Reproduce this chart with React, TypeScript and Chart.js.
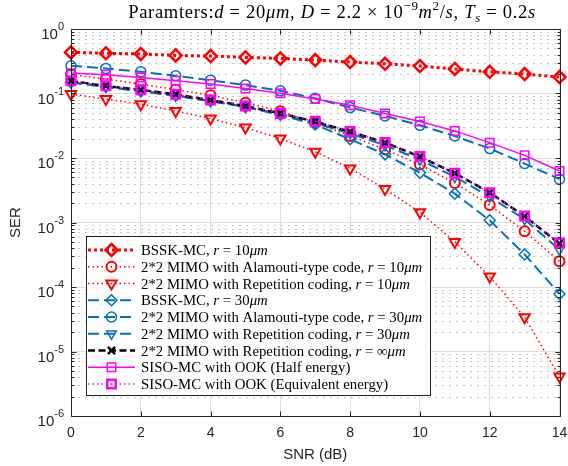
import React, { useEffect, useRef } from 'react';
import { Chart, registerables } from 'chart.js';

Chart.register(...registerables);

// ---------------- data ----------------
const snr = [0, 1, 2, 3, 4, 5, 6, 7, 8, 9, 10, 11, 12, 13, 14];

const bsskR10 = [0.434, 0.42, 0.41, 0.39, 0.38, 0.363, 0.35, 0.33, 0.307, 0.289, 0.266, 0.24, 0.217, 0.2, 0.18];
const alamoutiR10 = [0.195, 0.168, 0.14, 0.115, 0.094, 0.072, 0.053, 0.035, 0.022, 0.0136, 0.0079, 0.0041, 0.00186, 0.00073, 0.00025];
const repetitionR10 = [0.098, 0.082, 0.0684, 0.0537, 0.0408, 0.0296, 0.02, 0.0125, 0.0069, 0.0033, 0.00144, 0.0005, 0.000145, 3.4e-5, 4.1e-6];
const bsskR30 = [0.15, 0.128, 0.109, 0.093, 0.077, 0.062, 0.047, 0.033, 0.0195, 0.0114, 0.0059, 0.0028, 0.00108, 0.00032, 7.8e-5];
const alamoutiR30 = [0.269, 0.245, 0.217, 0.188, 0.161, 0.135, 0.11, 0.0843, 0.0605, 0.0449, 0.0321, 0.0219, 0.014, 0.0082, 0.0047];
const repetitionR30 = [0.148, 0.126, 0.108, 0.092, 0.076, 0.062, 0.047, 0.035, 0.024, 0.0157, 0.0094, 0.0051, 0.0025, 0.00112, 0.00038];
const repetitionRInf = [0.157, 0.131, 0.114, 0.097, 0.0787, 0.064, 0.049, 0.0367, 0.0256, 0.0173, 0.0105, 0.0058, 0.0029, 0.00125, 0.00047];
const sisoHalf = [0.207, 0.195, 0.177, 0.157, 0.14, 0.12, 0.101, 0.082, 0.066, 0.049, 0.0367, 0.0263, 0.0173, 0.011, 0.0063];
const sisoEquiv = [0.157, 0.132, 0.114, 0.097, 0.079, 0.064, 0.049, 0.037, 0.0258, 0.0174, 0.0106, 0.0058, 0.0029, 0.00126, 0.00048];

const xTickValues = [0, 2, 4, 6, 8, 10, 12, 14];
const yTickExponents = [0, -1, -2, -3, -4, -5, -6];
const xTitle = 'SNR (dB)';
const yTitle = 'SER';

type Seg = { t: string; i?: boolean; sup?: boolean; sub?: boolean };

const titleSegs: Seg[] = [
  { t: 'Paramters:' }, { t: 'd', i: true }, { t: ' = 20' }, { t: 'μm', i: true }, { t: ', ' },
  { t: 'D', i: true }, { t: ' = 2.2 × 10' }, { t: '−9', sup: true }, { t: 'm', i: true }, { t: '2', sup: true },
  { t: '/' }, { t: 's', i: true }, { t: ', ' }, { t: 'T', i: true }, { t: 's', i: true, sub: true },
  { t: ' = 0.2' }, { t: 's', i: true },
];

const labelBsskR10: Seg[] = [{ t: 'BSSK-MC, ' }, { t: 'r', i: true }, { t: ' = 10' }, { t: 'μm', i: true }];
const labelAlamoutiR10: Seg[] = [{ t: '2*2 MIMO with Alamouti-type code, ' }, { t: 'r', i: true }, { t: ' = 10' }, { t: 'μm', i: true }];
const labelRepetitionR10: Seg[] = [{ t: '2*2 MIMO with Repetition coding, ' }, { t: 'r', i: true }, { t: ' = 10' }, { t: 'μm', i: true }];
const labelBsskR30: Seg[] = [{ t: 'BSSK-MC, ' }, { t: 'r', i: true }, { t: ' = 30' }, { t: 'μm', i: true }];
const labelAlamoutiR30: Seg[] = [{ t: '2*2 MIMO with Alamouti-type code, ' }, { t: 'r', i: true }, { t: ' = 30' }, { t: 'μm', i: true }];
const labelRepetitionR30: Seg[] = [{ t: '2*2 MIMO with Repetition coding, ' }, { t: 'r', i: true }, { t: ' = 30' }, { t: 'μm', i: true }];
const labelRepetitionRInf: Seg[] = [{ t: '2*2 MIMO with Repetition coding, ' }, { t: 'r', i: true }, { t: ' = ∞' }, { t: 'μm', i: true }];
const labelSisoHalf: Seg[] = [{ t: 'SISO-MC with OOK (Half energy)' }];
const labelSisoEquiv: Seg[] = [{ t: 'SISO-MC with OOK (Equivalent energy)' }];

// ---------------- styles ----------------
const RED = '#ff0000';
const BLUE = '#0072bd';
const BLACK = '#000000';
const MAGENTA = '#ff00ff';
const TEXT = '#262626';
const SERIF = '"Liberation Serif", "Times New Roman", serif';
const SANS = '"Liberation Sans", Arial, Helvetica, sans-serif';

type Marker = 'rectRot' | 'circle' | 'triangleDown' | 'crossRot' | 'rect';
interface Series {
  data: number[]; label: Seg[]; color: string; width: number; dash: number[];
  marker: Marker; r: number; mw: number;
}

const series: Series[] = [
  { data: bsskR10, label: labelBsskR10, color: RED, width: 3, dash: [3, 3], marker: 'rectRot', r: 6, mw: 2.5 },
  { data: alamoutiR10, label: labelAlamoutiR10, color: RED, width: 1.5, dash: [1.5, 3], marker: 'circle', r: 5, mw: 2 },
  { data: repetitionR10, label: labelRepetitionR10, color: RED, width: 1.5, dash: [1.5, 3], marker: 'triangleDown', r: 6, mw: 2 },
  { data: bsskR30, label: labelBsskR30, color: BLUE, width: 2, dash: [11, 5], marker: 'rectRot', r: 5.5, mw: 1.5 },
  { data: alamoutiR30, label: labelAlamoutiR30, color: BLUE, width: 2, dash: [11, 5], marker: 'circle', r: 5, mw: 1.5 },
  { data: repetitionR30, label: labelRepetitionR30, color: BLUE, width: 2, dash: [11, 5], marker: 'triangleDown', r: 5.5, mw: 1.5 },
  { data: repetitionRInf, label: labelRepetitionRInf, color: BLACK, width: 2.5, dash: [7, 3.5], marker: 'crossRot', r: 5, mw: 2.5 },
  { data: sisoHalf, label: labelSisoHalf, color: MAGENTA, width: 1.5, dash: [], marker: 'rect', r: 6, mw: 1.5 },
  { data: sisoEquiv, label: labelSisoEquiv, color: MAGENTA, width: 1.5, dash: [1.5, 3], marker: 'rect', r: 6, mw: 2.5 },
];

const isDecade = (v: number) => {
  const l = Math.log10(v);
  return Math.abs(l - Math.round(l)) < 1e-6;
};

function segFont(s: Seg, size: number) {
  const fs = s.sup || s.sub ? size * 0.7 : size;
  return `${s.i ? 'italic ' : ''}${fs}px ${SERIF}`;
}

function measureRich(ctx: CanvasRenderingContext2D, segs: Seg[], size: number, spacing: number) {
  let w = 0;
  for (const s of segs) {
    ctx.font = segFont(s, size);
    w += ctx.measureText(s.t).width + spacing * s.t.length;
  }
  return w;
}

function drawRich(ctx: CanvasRenderingContext2D, segs: Seg[], x: number, y: number, size: number, spacing = 0) {
  let cx = x;
  ctx.textAlign = 'left';
  ctx.textBaseline = 'alphabetic';
  for (const s of segs) {
    ctx.font = segFont(s, size);
    const dy = s.sup ? -size * 0.42 : s.sub ? size * 0.22 : 0;
    if (spacing) {
      for (const ch of s.t) {
        ctx.fillText(ch, cx, y + dy);
        cx += ctx.measureText(ch).width + spacing;
      }
    } else {
      ctx.fillText(s.t, cx, y + dy);
      cx += ctx.measureText(s.t).width;
    }
  }
}

function drawMarker(ctx: CanvasRenderingContext2D, m: Marker, x: number, y: number, r: number, color: string, lw: number) {
  ctx.save();
  ctx.setLineDash([]);
  ctx.strokeStyle = color;
  ctx.lineWidth = lw;
  ctx.beginPath();
  if (m === 'circle') {
    ctx.arc(x, y, r, 0, Math.PI * 2);
  } else if (m === 'rectRot') {
    ctx.moveTo(x, y - r); ctx.lineTo(x + r, y); ctx.lineTo(x, y + r); ctx.lineTo(x - r, y); ctx.closePath();
  } else if (m === 'rect') {
    const s = r * Math.SQRT1_2;
    ctx.rect(x - s, y - s, 2 * s, 2 * s);
  } else if (m === 'triangleDown') {
    const h = r * Math.sin(Math.PI / 3);
    ctx.moveTo(x, y + r); ctx.lineTo(x - h, y - r / 2); ctx.lineTo(x + h, y - r / 2); ctx.closePath();
  } else if (m === 'crossRot') {
    const s = r * Math.SQRT1_2;
    ctx.moveTo(x - s, y - s); ctx.lineTo(x + s, y + s);
    ctx.moveTo(x + s, y - s); ctx.lineTo(x - s, y + s);
  }
  ctx.stroke();
  ctx.restore();
}

const decorPlugin = {
  id: 'decor',
  beforeDatasetsDraw(chart: any) {
    const { ctx, chartArea: a } = chart;
    const ys = chart.scales.y;
    ctx.save();
    ctx.strokeStyle = '#c6c6c6';
    ctx.lineWidth = 1;
    ctx.setLineDash([2, 5]);
    for (let e = -6; e < 0; e++) {
      for (let k = 2; k <= 9; k++) {
        const y = Math.round(ys.getPixelForValue(k * Math.pow(10, e))) + 0.5;
        ctx.beginPath();
        ctx.moveTo(a.left, y);
        ctx.lineTo(a.right, y);
        ctx.stroke();
      }
    }
    ctx.restore();
  },
  afterDraw(chart: any) {
    const { ctx, chartArea: a } = chart;
    const xs = chart.scales.x;
    const ys = chart.scales.y;
    const L = Math.round(a.left) + 0.5;
    const R = Math.round(a.right) + 0.5;
    const T = Math.round(a.top) + 0.5;
    const B = Math.round(a.bottom) + 0.5;
    ctx.save();
    // axes box
    ctx.strokeStyle = TEXT;
    ctx.lineWidth = 1;
    ctx.setLineDash([]);
    ctx.strokeRect(L, T, R - L, B - T);
    // ticks
    ctx.beginPath();
    for (const v of xTickValues) {
      const x = Math.round(xs.getPixelForValue(v)) + 0.5;
      ctx.moveTo(x, B); ctx.lineTo(x, B - 5);
      ctx.moveTo(x, T); ctx.lineTo(x, T + 5);
    }
    for (let e = -6; e <= 0; e++) {
      for (let k = 1; k <= 9; k++) {
        const v = k * Math.pow(10, e);
        if (v > 1) break;
        const y = Math.round(ys.getPixelForValue(v)) + 0.5;
        const len = k === 1 ? 5 : 3;
        ctx.moveTo(L, y); ctx.lineTo(L + len, y);
        ctx.moveTo(R, y); ctx.lineTo(R - len, y);
      }
    }
    ctx.stroke();
    // x tick labels
    ctx.fillStyle = TEXT;
    ctx.font = `14px ${SANS}`;
    ctx.textAlign = 'center';
    ctx.textBaseline = 'top';
    for (const v of xTickValues) {
      ctx.fillText(String(v), xs.getPixelForValue(v), a.bottom + 10);
    }
    // y tick labels (10^n)
    for (const e of yTickExponents) {
      const y = ys.getPixelForValue(Math.pow(10, e));
      const expStr = e < 0 ? '-' + String(-e) : String(e);
      ctx.font = `11px ${SANS}`;
      const ew = ctx.measureText(expStr).width;
      ctx.textAlign = 'right';
      ctx.textBaseline = 'alphabetic';
      const right = a.left - 7;
      ctx.fillText(expStr, right, y + 1);
      ctx.font = `15px ${SANS}`;
      ctx.fillText('10', right - ew, y + 10);
    }
    // axis titles
    ctx.font = `15px ${SANS}`;
    ctx.textAlign = 'center';
    ctx.textBaseline = 'middle';
    ctx.fillText(xTitle, (a.left + a.right) / 2, 455);
    ctx.save();
    ctx.translate(16, (a.top + a.bottom) / 2);
    ctx.rotate(-Math.PI / 2);
    ctx.fillText(yTitle, 0, 0);
    ctx.restore();
    // title
    const tSize = 18.5;
    const tSpacing = 0.7;
    const tw = measureRich(ctx, titleSegs, tSize, tSpacing);
    ctx.fillStyle = '#000';
    drawRich(ctx, titleSegs, 332 - tw / 2, 18, tSize, tSpacing);
    // legend
    const lx0 = 86.5, ly0 = 236.5, lx1 = 430.5, ly1 = 395.5;
    ctx.fillStyle = '#ffffff';
    ctx.fillRect(lx0, ly0, lx1 - lx0, ly1 - ly0);
    ctx.strokeStyle = TEXT;
    ctx.lineWidth = 1;
    ctx.strokeRect(lx0, ly0, lx1 - lx0, ly1 - ly0);
    const rowStep = 16.75;
    series.forEach((s, i) => {
      const yRow = 250 + i * rowStep;
      ctx.save();
      ctx.strokeStyle = s.color;
      ctx.lineWidth = s.width;
      ctx.setLineDash(s.dash);
      ctx.beginPath();
      ctx.moveTo(88, yRow);
      ctx.lineTo(135, yRow);
      ctx.stroke();
      ctx.restore();
      drawMarker(ctx, s.marker, 111.5, yRow, s.r, s.color, s.mw);
      ctx.fillStyle = '#000';
      drawRich(ctx, s.label, 141, yRow + 5, 14.8);
    });
    ctx.restore();
  },
};

const pointStyleOf = (m: Marker) => (m === 'triangleDown' ? 'triangle' : m);

export default function App() {
  const ref = useRef<HTMLCanvasElement>(null);
  useEffect(() => {
    if (!ref.current) return;
    const datasets = series.map((s, i) => ({
      label: s.label.map((g) => g.t).join(''),
      data: snr.map((x, j) => ({ x, y: s.data[j] })),
      borderColor: s.color,
      backgroundColor: s.color,
      borderWidth: s.width,
      borderDash: s.dash,
      pointStyle: pointStyleOf(s.marker) as any,
      pointRotation: s.marker === 'triangleDown' ? 180 : 0,
      pointRadius: s.r,
      pointBorderWidth: s.mw,
      pointBorderColor: s.color,
      pointBackgroundColor: 'rgba(0,0,0,0)',
      pointHoverRadius: s.r,
      tension: 0,
      fill: false,
      clip: false as any,
      order: series.length - 1 - i,
    }));
    const chart = new Chart(ref.current, {
      type: 'line',
      data: { datasets },
      options: {
        animation: false,
        responsive: true,
        maintainAspectRatio: false,
        devicePixelRatio: 1,
        events: [],
        layout: { padding: { left: 71, top: 29, right: 6, bottom: 50 } },
        plugins: { legend: { display: false }, title: { display: false }, tooltip: { enabled: false } },
        scales: {
          x: {
            type: 'linear',
            min: 0,
            max: 14,
            ticks: { display: false, stepSize: 2 },
            grid: { color: '#dfdfdf', lineWidth: 1, drawTicks: false },
            border: { display: false },
          },
          y: {
            type: 'logarithmic',
            min: 1e-6,
            max: 1,
            ticks: { display: false },
            grid: {
              color: (c: any) => (c.tick && isDecade(c.tick.value) ? '#dfdfdf' : 'rgba(0,0,0,0)'),
              lineWidth: 1,
              drawTicks: false,
            },
            border: { display: false },
          },
        },
      },
      plugins: [decorPlugin],
    });
    return () => chart.destroy();
  }, []);
  return (
    <div style={{ position: 'fixed', left: 0, top: 0, width: 568, height: 466, background: '#fff' }}>
      <canvas ref={ref} />
    </div>
  );
}
